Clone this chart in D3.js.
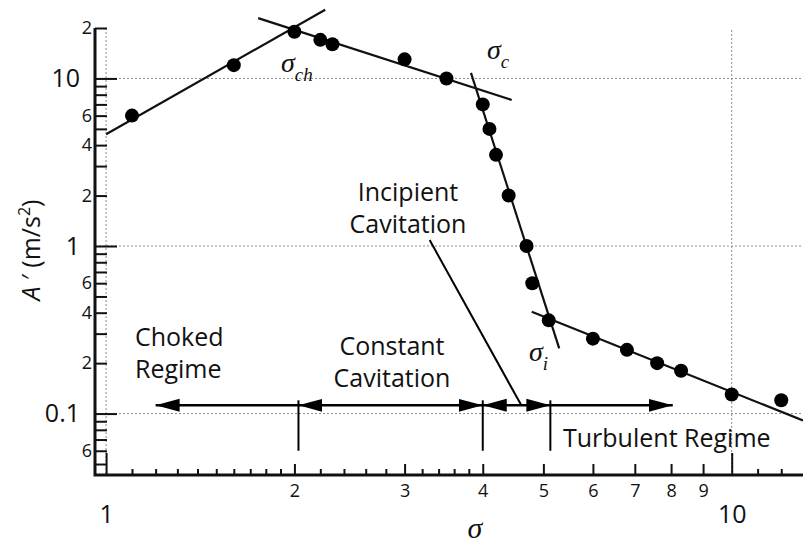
<!DOCTYPE html>
<html>
<head>
<meta charset="utf-8">
<script src="https://cdn.jsdelivr.net/npm/d3@7"></script>
<style>
  html, body { margin: 0; padding: 0; background: #fff; }
  svg { display: block; }
  .sans { font-family: "Open Sans", "Noto Sans", sans-serif; fill: #111; }
  .serif { font-family: "Liberation Serif", "DejaVu Serif", serif; font-style: italic; fill: #111; }
</style>
</head>
<body>
<svg id="chart" width="803" height="545"></svg>
<script>
// Measured cavitation-noise points: cavitation number vs. acceleration level
const sigma = [1.1, 1.6, 2.0, 2.2, 2.3, 3.0, 3.5, 4.0, 4.1, 4.2, 4.4, 4.7, 4.8, 5.1, 6.0, 6.8, 7.6, 8.3, 10, 12];
const accel = [6.0, 12, 19, 17, 16, 13, 10, 7.0, 5.0, 3.5, 2.0, 1.0, 0.6, 0.36, 0.28, 0.24, 0.2, 0.18, 0.13, 0.12];

// Straight-line fits (on log–log axes) for each regime, as [sigma, A'] end points
const fitChoked     = [[1.0, 4.64], [2.24, 25.7]];
const fitConstant   = [[1.75, 22.9], [4.45, 7.44]];
const fitIncipient  = [[3.83, 10.8], [5.30, 0.245]];
const fitTurbulent  = [[4.79, 0.405], [13.0, 0.091]];

// Regime boundaries on the sigma axis and arrow spans
const boundaries = [2.03, 4.0, 5.13];
const arrowSpans = [
  { from: 2.03, to: 1.2,  heads: "end" },
  { from: 2.03, to: 4.0,  heads: "both" },
  { from: 4.0,  to: 5.13, heads: "both" },
  { from: 5.13, to: 8.05, heads: "end" }
];
const arrowLevel = 0.112;

// Tick values
const yMajorTicks = [10, 1, 0.1];
const yMinorTicks = [20, 9, 8, 7, 6, 5, 4, 3, 2, 0.9, 0.8, 0.7, 0.6, 0.5, 0.4, 0.3, 0.2, 0.09, 0.08, 0.07, 0.06, 0.05];
const yMinorLabels = { 20: "2", 6: "6", 4: "4", 2: "2", 0.6: "6", 0.4: "4", 0.2: "2", 0.06: "6" };
const xMajorTicks = [1, 10];
const xMidTicks = [2, 3, 4, 5, 6, 7, 8, 9];
const xMinorTicks = [1.1, 1.2, 1.3, 1.4, 1.5, 1.6, 1.7, 1.8, 1.9, 2.2, 2.4, 2.6, 2.8, 3.2, 3.4, 3.6, 3.8, 11, 12];

const W = 803, H = 545;
const svg = d3.select("#chart");

const x = d3.scaleLog().domain([0.96, 13]).range([95, 803]);
const y = d3.scaleLog().domain([0.043, 20]).range([475, 28]);

// Dotted reference grid at decades
const grid = svg.append("g").attr("stroke", "#888").attr("stroke-width", 1).attr("stroke-dasharray", "2,2");
[10, 1, 0.1].forEach(v => grid.append("line")
  .attr("x1", x(0.96)).attr("x2", W).attr("y1", y(v)).attr("y2", y(v)));
[1, 10].forEach(v => grid.append("line")
  .attr("x1", x(v)).attr("x2", x(v)).attr("y1", y(20) + (v === 10 ? 2 : 0)).attr("y2", y(0.043)));

// Axes: ticks point inward, labels outside
function styleAxis(g, fontSize) {
  g.select(".domain").remove();
  g.selectAll(".tick line").attr("stroke", "#111").attr("stroke-width", 2);
  g.selectAll(".tick text").attr("class", "sans").attr("font-size", fontSize).attr("fill", "#111");
}

svg.append("g").attr("transform", `translate(${x(0.96)},0)`)
  .call(d3.axisLeft(y).tickValues(yMajorTicks).tickSizeInner(-22).tickSizeOuter(0).tickPadding(15)
    .tickFormat(d => d === 0.1 ? "0.1" : String(d)))
  .call(g => styleAxis(g, 25));

svg.append("g").attr("transform", `translate(${x(0.96)},0)`)
  .call(d3.axisLeft(y).tickValues(yMinorTicks).tickSizeInner(-12).tickSizeOuter(0).tickPadding(3)
    .tickFormat(d => yMinorLabels[d] || ""))
  .call(g => styleAxis(g, 18));

svg.append("g").attr("transform", `translate(0,${y(0.043)})`)
  .call(d3.axisBottom(x).tickValues(xMajorTicks).tickSizeInner(-22).tickSizeOuter(0).tickPadding(30)
    .tickFormat(d => String(d)))
  .call(g => styleAxis(g, 25));

svg.append("g").attr("transform", `translate(0,${y(0.043)})`)
  .call(d3.axisBottom(x).tickValues(xMidTicks).tickSizeInner(-11).tickSizeOuter(0).tickPadding(9)
    .tickFormat(d => String(d)))
  .call(g => styleAxis(g, 18));

svg.append("g").attr("transform", `translate(0,${y(0.043)})`)
  .call(d3.axisBottom(x).tickValues(xMinorTicks).tickSizeInner(-6).tickSizeOuter(0).tickFormat(""))
  .call(g => styleAxis(g, 18));

// Axis spines
svg.append("path")
  .attr("d", `M${x(0.96)},${y(20)}V${y(0.043)}H${W}`)
  .attr("fill", "none").attr("stroke", "#111").attr("stroke-width", 3);

// Regime fit lines
const line = d3.line().x(d => x(d[0])).y(d => y(d[1]));
[fitChoked, fitConstant, fitIncipient, fitTurbulent].forEach(f =>
  svg.append("path").attr("d", line(f)).attr("fill", "none").attr("stroke", "#111").attr("stroke-width", 2.2));

// Data points
svg.append("g").selectAll("circle").data(sigma).join("circle")
  .attr("cx", (d) => x(d)).attr("cy", (d, i) => y(accel[i])).attr("r", 7).attr("fill", "#000");

// Arrowheads
const defs = svg.append("defs");
defs.append("marker").attr("id", "head")
  .attr("markerUnits", "userSpaceOnUse").attr("markerWidth", 26).attr("markerHeight", 16)
  .attr("refX", 24).attr("refY", 7).attr("orient", "auto-start-reverse")
  .append("path").attr("d", "M0,0.5L24,7L0,13.5Z").attr("fill", "#000");

arrowSpans.forEach(a => {
  const p = svg.append("line")
    .attr("x1", x(a.from)).attr("x2", x(a.to)).attr("y1", y(arrowLevel)).attr("y2", y(arrowLevel))
    .attr("stroke", "#000").attr("stroke-width", 2.5)
    .attr("marker-end", "url(#head)");
  if (a.heads === "both") p.attr("marker-start", "url(#head)");
});

boundaries.forEach(b => svg.append("line")
  .attr("x1", x(b)).attr("x2", x(b)).attr("y1", y(0.12)).attr("y2", y(0.06))
  .attr("stroke", "#000").attr("stroke-width", 2));

// Leader from "Incipient Cavitation" label to its span
svg.append("line")
  .attr("x1", x(3.29)).attr("y1", y(1.085)).attr("x2", x(4.61)).attr("y2", y(arrowLevel))
  .attr("stroke", "#000").attr("stroke-width", 2);

// Region labels
function label(lines, xp, yp, anchor, lh) {
  const t = svg.append("text").attr("class", "sans").attr("font-size", 25).attr("text-anchor", anchor);
  lines.forEach((s, i) => t.append("tspan").attr("x", xp).attr("y", yp + i * lh).text(s));
}
label(["Choked", "Regime"], 135, 346, "start", 32);
label(["Constant", "Cavitation"], 392, 355, "middle", 32);
label(["Incipient", "Cavitation"], 408, 201, "middle", 32);
label(["Turbulent Regime"], 563, 447, "start", 32);

// Critical sigma labels
function sigmaLabel(sub, xp, yp) {
  const t = svg.append("text").attr("class", "serif").attr("x", xp).attr("y", yp).attr("font-size", 28);
  t.append("tspan").text("σ");
  t.append("tspan").attr("font-size", 19).attr("dy", 9).text(sub);
}
sigmaLabel("ch", 281, 72);
sigmaLabel("c", 487, 59);
sigmaLabel("i", 529, 361);

// Axis titles
svg.append("text").attr("class", "serif").attr("font-size", 30)
  .attr("x", 475).attr("y", 538).attr("text-anchor", "middle").text("σ");

const yt = svg.append("text").attr("class", "sans").attr("font-size", 25)
  .attr("text-anchor", "middle").attr("transform", "translate(40,250) rotate(-90)");
yt.append("tspan").attr("font-style", "italic").text("A");
yt.append("tspan").text(" ′ (m/s");
yt.append("tspan").attr("font-size", 16).attr("dy", -10).text("2");
yt.append("tspan").attr("dy", 10).text(")");
</script>
</body>
</html>
